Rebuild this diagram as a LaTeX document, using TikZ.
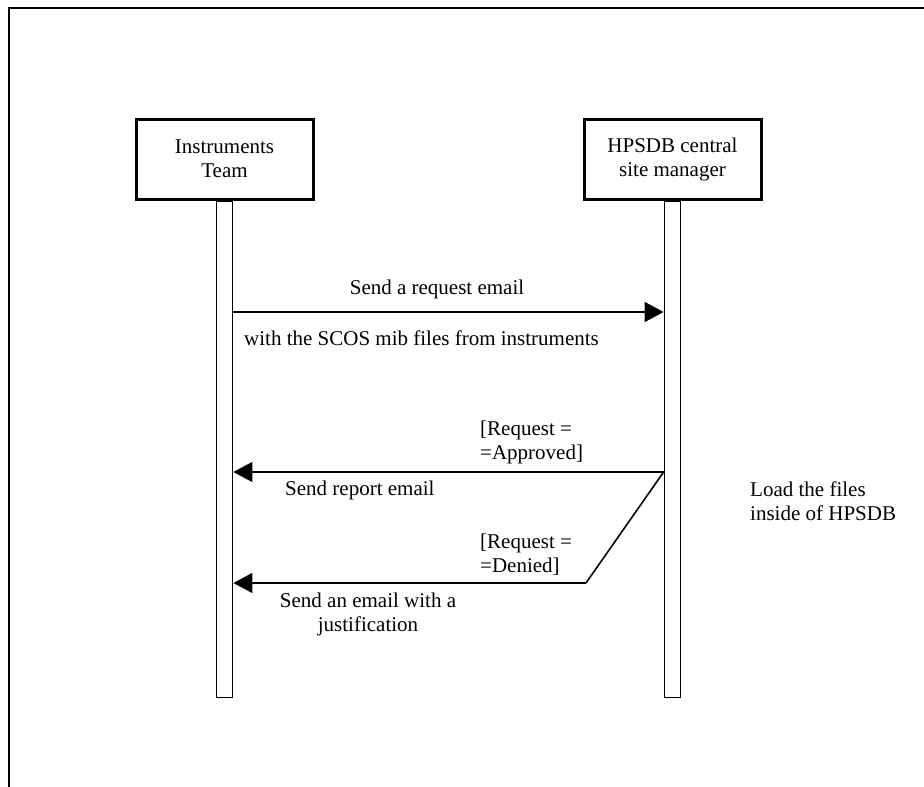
\documentclass[tikz,border=0pt]{standalone}
\usepackage{fontspec}
\setmainfont{Liberation Serif}
\usetikzlibrary{arrows.meta}
\begin{document}
\begin{tikzpicture}[x=1pt,y=-1pt,
  every node/.style={font=\fontsize{21}{24}\selectfont, inner sep=0pt},
  actor/.style={draw, line width=3pt, minimum width=177pt, minimum height=80pt, align=center},
  lifeline/.style={draw, line width=1.8pt, minimum width=16pt, minimum height=496pt, anchor=north},
  msg/.style={line width=1.6pt, -{Triangle[length=19pt,width=20pt]}},
  guard/.style={line width=1.6pt},
  lbl/.style={align=left, anchor=west}]
\useasboundingbox (0,0) rectangle (924,787);
% open frame around the diagram
\draw[line width=2pt] (9,787) -- (9,8) -- (924,8);

% participants
\node[actor] (it) at (224.5,159) {Instruments\\Team};
\node[actor] (hm) at (672.5,159) {HPSDB central\\site manager};

% lifelines
\node[lifeline] (itl) at (it.south) {};
\node[lifeline] (hml) at (hm.south) {};

% request message
\draw[msg] (itl.east |- 0,312) -- (hml.west |- 0,312);
\node (t1) at (437,289) {Send a request email};
\node[lbl] (t2) at (244,338) {with the SCOS mib files from instruments};

% approved branch
\draw[msg] (hml.west |- 0,472) -- (itl.east |- 0,472);
\node[lbl] (g1) at (480,442.5) {[Request =\\=Approved]};
\node[lbl] (t3) at (285,490) {Send report email};

% denied branch
\coordinate (bend) at (586,583);
\draw[guard] (hml.west |- 0,472) -- (bend);
\draw[msg] (bend) -- (itl.east |- 0,583);
\node[lbl] (g2) at (480,554.5) {[Request =\\=Denied]};
\node[align=center] (t4) at (368,614) {Send an email with a\\justification};

% note beside the manager lifeline
\node[lbl] (n1) at (750,501.5) {Load the files\\inside of HPSDB};
\end{tikzpicture}
\end{document}
